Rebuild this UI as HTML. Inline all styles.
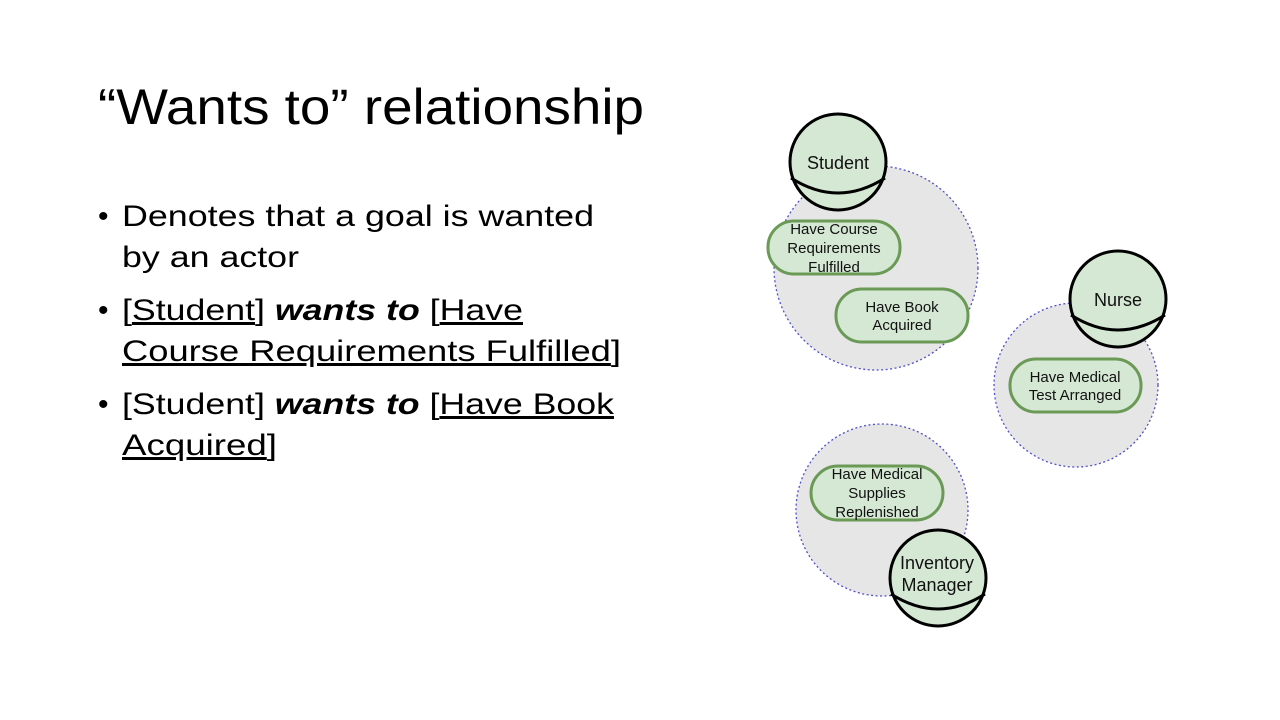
<!DOCTYPE html>
<html><head><meta charset="utf-8"><style>
html,body{margin:0;padding:0;background:#fff}
svg{display:block}
.t{font-family:"Liberation Sans",Arial,sans-serif;fill:#000}
.d{font-family:"Liberation Sans",Arial,sans-serif;fill:#111;font-size:15px;text-anchor:middle}
.a{font-family:"Liberation Sans",Arial,sans-serif;fill:#111;font-size:18px;text-anchor:middle}
</style></head><body>
<svg width="1280" height="720" viewBox="0 0 1280 720" xmlns="http://www.w3.org/2000/svg">
<text class="t" x="98" y="124" font-size="50" textLength="546" lengthAdjust="spacingAndGlyphs">“Wants to” relationship</text>
<g class="t" font-size="30">
<text x="98" y="226">•</text><text x="122" y="226" textLength="472" lengthAdjust="spacingAndGlyphs">Denotes that a goal is wanted</text>
<text x="122" y="267" textLength="177" lengthAdjust="spacingAndGlyphs">by an actor</text>
<text x="98" y="320">•</text><text x="122" y="320" textLength="401" lengthAdjust="spacingAndGlyphs">[<tspan text-decoration="underline">Student</tspan>] <tspan font-weight="bold" font-style="italic">wants to</tspan> [<tspan text-decoration="underline">Have</tspan></text>
<text x="122" y="361" textLength="499" lengthAdjust="spacingAndGlyphs"><tspan text-decoration="underline">Course Requirements Fulfilled</tspan>]</text>
<text x="98" y="414">•</text><text x="122" y="414" textLength="492" lengthAdjust="spacingAndGlyphs">[Student] <tspan font-weight="bold" font-style="italic">wants to</tspan> [<tspan text-decoration="underline">Have Book</tspan></text>
<text x="122" y="455" textLength="155" lengthAdjust="spacingAndGlyphs"><tspan text-decoration="underline">Acquired</tspan>]</text>
</g>
<g fill="#e6e6e6" stroke="#5050c8" stroke-width="1.3" stroke-dasharray="2,2.5">
<circle cx="876" cy="268" r="102"/>
<circle cx="1076" cy="385" r="82"/>
<circle cx="882" cy="510" r="86"/>
</g>
<g fill="#d5e8d4" stroke="#6a9a55" stroke-width="3">
<rect x="768" y="221" width="132" height="53" rx="26"/>
<rect x="836" y="289" width="132" height="53" rx="26"/>
<rect x="1010" y="359" width="131" height="53" rx="26"/>
<rect x="811" y="466" width="132" height="54" rx="27"/>
</g>
<g fill="#d5e8d4" stroke="#000" stroke-width="3">
<circle cx="838" cy="162" r="48"/>
<path d="M791,178 Q838,208 885,178" fill="none"/>
<circle cx="1118" cy="299" r="48"/>
<path d="M1071,315 Q1118,345 1165,315" fill="none"/>
<circle cx="938" cy="578" r="48"/>
<path d="M891,594 Q938,624 985,594" fill="none"/>
</g>
<text class="a" x="838" y="169">Student</text>
<text class="a" x="1118" y="306">Nurse</text>
<text class="a" x="937" y="569">Inventory</text>
<text class="a" x="937" y="591">Manager</text>
<text class="d" x="834" y="234">Have Course</text>
<text class="d" x="834" y="253">Requirements</text>
<text class="d" x="834" y="272">Fulfilled</text>
<text class="d" x="902" y="312">Have Book</text>
<text class="d" x="902" y="330">Acquired</text>
<text class="d" x="1075" y="382">Have Medical</text>
<text class="d" x="1075" y="400">Test Arranged</text>
<text class="d" x="877" y="479">Have Medical</text>
<text class="d" x="877" y="498">Supplies</text>
<text class="d" x="877" y="517">Replenished</text>
</svg>
</body></html>
